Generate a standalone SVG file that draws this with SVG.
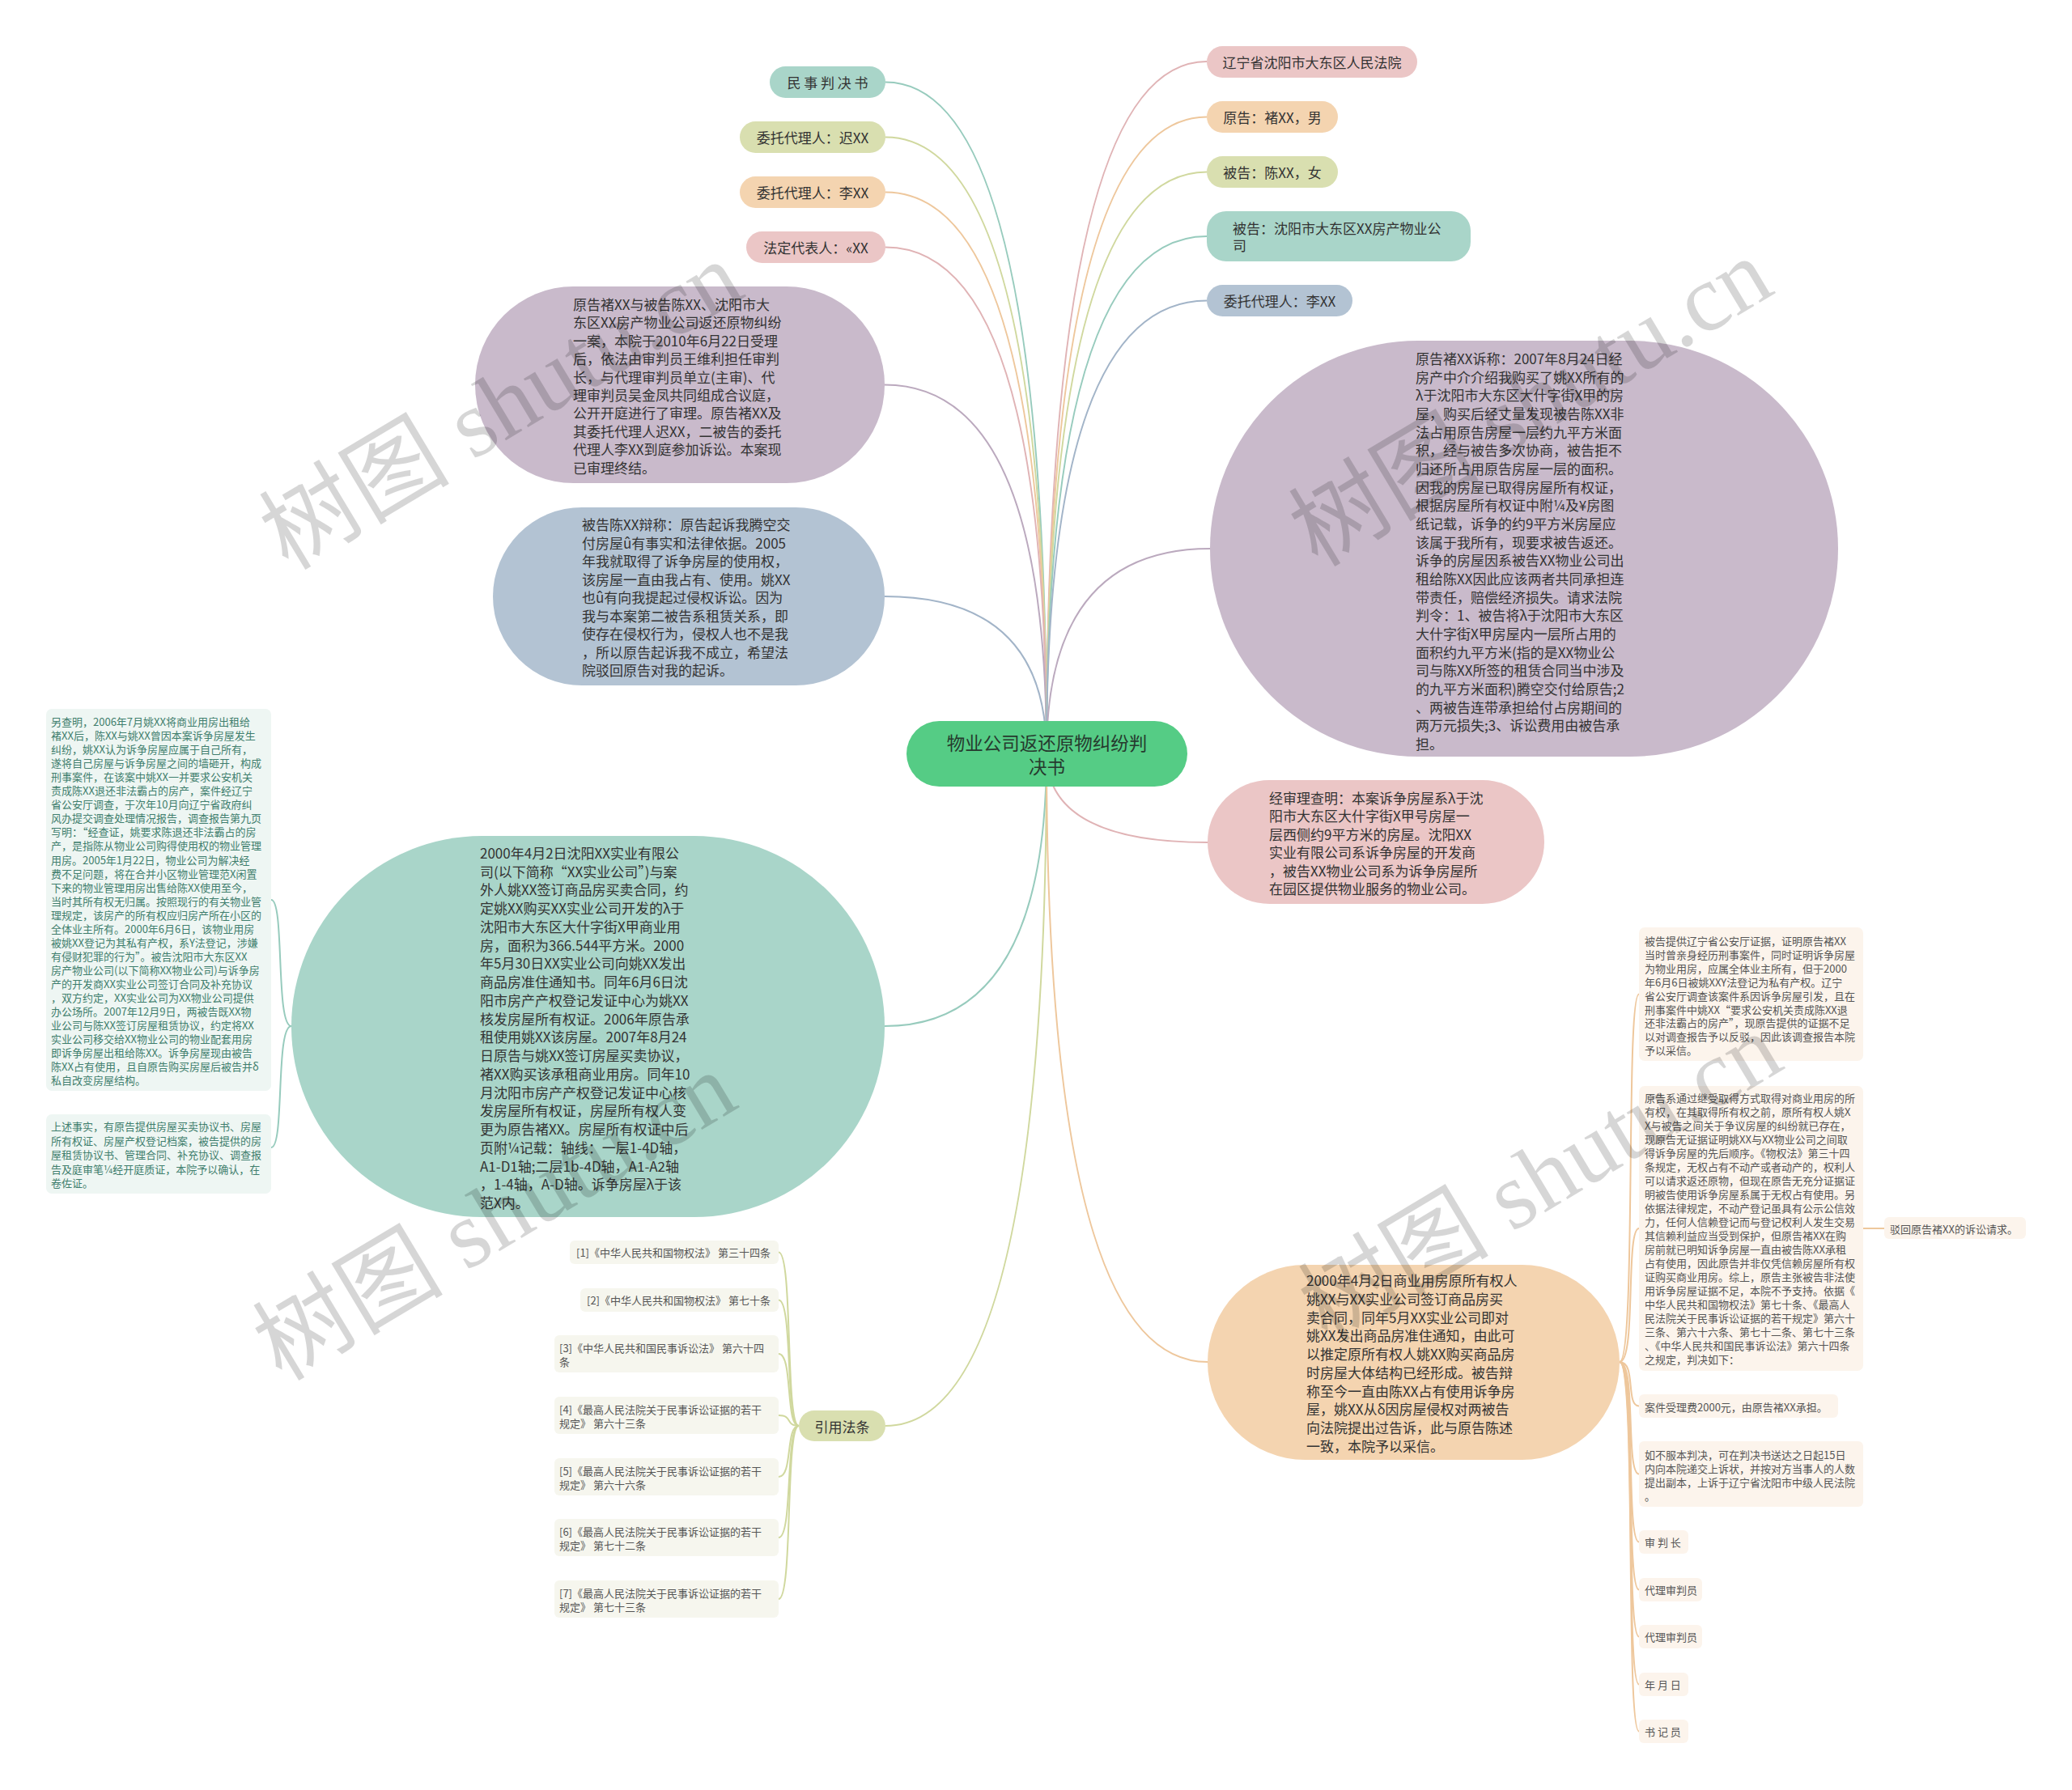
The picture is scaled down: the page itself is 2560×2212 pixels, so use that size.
<svg xmlns="http://www.w3.org/2000/svg" width="2560" height="2212" viewBox="0 0 2560 2212">
<style>
text{font-family:"Noto Sans CJK SC","Noto Sans",sans-serif;fill:#333;dominant-baseline:central}
.c{text-anchor:middle}
.f17{font-size:17px}
.f13{font-size:13px;fill:#555}
.f13g{font-size:13px;fill:#3f7e6d}
.f23{font-size:22.5px;fill:#263a2e}
.ln{fill:none;stroke-width:2}
.teal{fill:#a9d5c9}.olive{fill:#d9dfb0}.peach{fill:#f4d4b0}.pink{fill:#ebc6c6}.blue{fill:#b3c3d3}.purple{fill:#c9bacb}
.lteal{stroke:#97cbbd}.lolive{stroke:#d0d89e}.lpeach{stroke:#eec79c}.lpink{stroke:#e0b3b5}.lblue{stroke:#a2b4c8}.lpurple{stroke:#bba9be}
.boxg{fill:#eef6f3}.boxl{fill:#f6f6ee}.boxp{fill:#fcf4ec}
.wm{font-family:"Liberation Serif","Noto Sans CJK SC",serif;font-size:118px;fill:#000;fill-opacity:.16;dominant-baseline:alphabetic}
</style>
<rect width="2560" height="2212" fill="#fff"/>
<g id="connectors">
<path class="ln lteal" d="M1293 931 Q1293 101.5 1094 101.5"/>
<path class="ln lolive" d="M1293 931 Q1293 169.5 1094 169.5"/>
<path class="ln lpeach" d="M1293 931 Q1293 237.5 1094 237.5"/>
<path class="ln lpink" d="M1293 931 Q1293 305.5 1094 305.5"/>
<path class="ln lpurple" d="M1293 931 Q1293 475.5 1093 475.5"/>
<path class="ln lblue" d="M1293 931 Q1293 737 1093 737"/>
<path class="ln lteal" d="M1293 931 Q1293 1268 1093 1268"/>
<path class="ln lolive" d="M1293 931 Q1293 1762 1094 1762"/>
<path class="ln lpink" d="M1293 931 Q1293 76 1491 76"/>
<path class="ln lpeach" d="M1293 931 Q1293 144.5 1491 144.5"/>
<path class="ln lolive" d="M1293 931 Q1293 212.5 1491 212.5"/>
<path class="ln lteal" d="M1293 931 Q1293 292 1491 292"/>
<path class="ln lblue" d="M1293 931 Q1293 371.5 1491 371.5"/>
<path class="ln lpurple" d="M1293 931 Q1293 678 1495 678"/>
<path class="ln lpink" d="M1293 931 Q1293 1041 1492 1041"/>
<path class="ln lpeach" d="M1293 931 Q1293 1683 1492 1683"/>
<path class="ln lteal" d="M360 1268 C340 1268 352 1112 335 1112"/>
<path class="ln lteal" d="M360 1268 C340 1268 352 1418 335 1418"/>
<path class="ln lolive" d="M987 1762 C970 1762 980 1547.5 962 1547.5"/>
<path class="ln lolive" d="M987 1762 C970 1762 980 1606.5 962 1606.5"/>
<path class="ln lolive" d="M987 1762 C970 1762 980 1673 962 1673"/>
<path class="ln lolive" d="M987 1762 C970 1762 980 1749 962 1749"/>
<path class="ln lolive" d="M987 1762 C970 1762 980 1825 962 1825"/>
<path class="ln lolive" d="M987 1762 C970 1762 980 1900 962 1900"/>
<path class="ln lolive" d="M987 1762 C970 1762 980 1976 962 1976"/>
<path class="ln lpeach" d="M2001 1683 C2022 1683 2008 1228.5 2025 1228.5"/>
<path class="ln lpeach" d="M2001 1683 C2022 1683 2008 1518 2025 1518"/>
<path class="ln lpeach" d="M2001 1683 C2022 1683 2008 1737.5 2025 1737.5"/>
<path class="ln lpeach" d="M2001 1683 C2022 1683 2008 1821.5 2025 1821.5"/>
<path class="ln lpeach" d="M2001 1683 C2022 1683 2008 1905.5 2025 1905.5"/>
<path class="ln lpeach" d="M2001 1683 C2022 1683 2008 1964.5 2025 1964.5"/>
<path class="ln lpeach" d="M2001 1683 C2022 1683 2008 2022.5 2025 2022.5"/>
<path class="ln lpeach" d="M2001 1683 C2022 1683 2008 2081.5 2025 2081.5"/>
<path class="ln lpeach" d="M2001 1683 C2022 1683 2008 2139.5 2025 2139.5"/>
<path class="ln lpeach" d="M2302 1518 L2328 1518"/>
</g>
<g id="root">
<rect x="1120" y="891" width="347" height="81" rx="40.5" fill="#55cc85"/>
<text class="f23 c" x="1293.5" y="917">物业公司返还原物纠纷判</text>
<text class="f23 c" x="1293.5" y="946">决书</text>
</g>
<g id="n-mssjs"><rect class="teal" x="951" y="82" width="143" height="39" rx="19.5"/><text class="f17 c" x="1022.5" y="101.5">民 事 判 决 书</text></g>
<g id="n-wt-chi"><rect class="olive" x="914" y="150" width="180" height="39" rx="19.5"/><text class="f17 c" x="1004" y="169.5">委托代理人：迟XX</text></g>
<g id="n-wt-li-l"><rect class="peach" x="914" y="218" width="180" height="39" rx="19.5"/><text class="f17 c" x="1004" y="237.5">委托代理人：李XX</text></g>
<g id="n-fddb"><rect class="pink" x="922" y="286" width="172" height="39" rx="19.5"/><text class="f17 c" x="1008" y="305.5">法定代表人：«XX</text></g>
<g id="n-court"><rect class="pink" x="1491" y="57" width="260" height="39" rx="19.5"/><text class="f17 c" x="1621" y="76.5">辽宁省沈阳市大东区人民法院</text></g>
<g id="n-yuangao"><rect class="peach" x="1491" y="125" width="162" height="39" rx="19.5"/><text class="f17 c" x="1572" y="144.5">原告：褚XX，男</text></g>
<g id="n-beigao1"><rect class="olive" x="1491" y="193" width="162" height="39" rx="19.5"/><text class="f17 c" x="1572" y="212.5">被告：陈XX，女</text></g>
<g id="n-beigao2"><rect class="teal" x="1491" y="261" width="326" height="62" rx="24"/><text class="f17" x="1523" y="281.5">被告：沈阳市大东区XX房产物业公</text><text class="f17" x="1523" y="302.5">司</text></g>
<g id="n-wt-li-r"><rect class="blue" x="1491" y="352" width="180" height="39" rx="19.5"/><text class="f17 c" x="1581" y="371.5">委托代理人：李XX</text></g>
<g id="n-intro">
<rect class="purple" x="587" y="354" width="506" height="243" rx="121.5"/>
<text class="f17" x="708"><tspan x="708" y="375">原告褚XX与被告陈XX、沈阳市大</tspan><tspan x="708" y="397.4">东区XX房产物业公司返还原物纠纷</tspan><tspan x="708" y="419.8">一案，本院于2010年6月22日受理</tspan><tspan x="708" y="442.2">后，依法由审判员王维利担任审判</tspan><tspan x="708" y="464.6">长，与代理审判员单立(主审)、代</tspan><tspan x="708" y="487">理审判员吴金凤共同组成合议庭，</tspan><tspan x="708" y="509.4">公开开庭进行了审理。原告褚XX及</tspan><tspan x="708" y="531.8">其委托代理人迟XX，二被告的委托</tspan><tspan x="708" y="554.2">代理人李XX到庭参加诉讼。本案现</tspan><tspan x="708" y="576.6">已审理终结。</tspan></text>
</g>
<g id="n-defense">
<rect class="blue" x="609" y="627" width="484" height="220" rx="110"/>
<text class="f17" x="719"><tspan x="719" y="647">被告陈XX辩称：原告起诉我腾空交</tspan><tspan x="719" y="669.5">付房屋û有事实和法律依据。2005</tspan><tspan x="719" y="692">年我就取得了诉争房屋的使用权，</tspan><tspan x="719" y="714.5">该房屋一直由我占有、使用。姚XX</tspan><tspan x="719" y="737">也û有向我提起过侵权诉讼。因为</tspan><tspan x="719" y="759.5">我与本案第二被告系租赁关系，即</tspan><tspan x="719" y="782">使存在侵权行为，侵权人也不是我</tspan><tspan x="719" y="804.5">，所以原告起诉我不成立，希望法</tspan><tspan x="719" y="827">院驳回原告对我的起诉。</tspan></text>
</g>
<g id="n-claim">
<rect class="purple" x="1495" y="421" width="776" height="514" rx="257"/>
<text class="f17" x="1749"><tspan x="1749" y="442">原告褚XX诉称：2007年8月24日经</tspan><tspan x="1749" y="464.67">房产中介介绍我购买了姚XX所有的</tspan><tspan x="1749" y="487.33">λ于沈阳市大东区大什字街X甲的房</tspan><tspan x="1749" y="510">屋，购买后经丈量发现被告陈XX非</tspan><tspan x="1749" y="532.67">法占用原告房屋一层约九平方米面</tspan><tspan x="1749" y="555.33">积，经与被告多次协商，被告拒不</tspan><tspan x="1749" y="578">归还所占用原告房屋一层的面积。</tspan><tspan x="1749" y="600.67">因我的房屋已取得房屋所有权证，</tspan><tspan x="1749" y="623.33">根据房屋所有权证中附¼及¥房图</tspan><tspan x="1749" y="646">纸记载，诉争的约9平方米房屋应</tspan><tspan x="1749" y="668.67">该属于我所有，现要求被告返还。</tspan><tspan x="1749" y="691.33">诉争的房屋因系被告XX物业公司出</tspan><tspan x="1749" y="714">租给陈XX因此应该两者共同承担连</tspan><tspan x="1749" y="736.67">带责任，赔偿经济损失。请求法院</tspan><tspan x="1749" y="759.33">判令：1、被告将λ于沈阳市大东区</tspan><tspan x="1749" y="782">大什字街X甲房屋内一层所占用的</tspan><tspan x="1749" y="804.67">面积约九平方米(指的是XX物业公</tspan><tspan x="1749" y="827.33">司与陈XX所签的租赁合同当中涉及</tspan><tspan x="1749" y="850">的九平方米面积)腾空交付给原告;2</tspan><tspan x="1749" y="872.67">、两被告连带承担给付占房期间的</tspan><tspan x="1749" y="895.33">两万元损失;3、诉讼费用由被告承</tspan><tspan x="1749" y="918">担。</tspan></text>
</g>
<g id="n-found">
<rect class="pink" x="1492" y="964" width="416" height="153" rx="76.5"/>
<text class="f17" x="1568"><tspan x="1568" y="985">经审理查明：本案诉争房屋系λ于沈</tspan><tspan x="1568" y="1007.4">阳市大东区大什字街X甲号房屋一</tspan><tspan x="1568" y="1029.8">层西侧约9平方米的房屋。沈阳XX</tspan><tspan x="1568" y="1052.2">实业有限公司系诉争房屋的开发商</tspan><tspan x="1568" y="1074.6">，被告XX物业公司系为诉争房屋所</tspan><tspan x="1568" y="1097">在园区提供物业服务的物业公司。</tspan></text>
</g>
<g id="n-history">
<rect class="teal" x="360" y="1033" width="733" height="471" rx="235.5"/>
<text class="f17" x="593"><tspan x="593" y="1053">2000年4月2日沈阳XX实业有限公</tspan><tspan x="593" y="1075.74">司(以下简称“XX实业公司”)与案</tspan><tspan x="593" y="1098.47">外人姚XX签订商品房买卖合同，约</tspan><tspan x="593" y="1121.21">定姚XX购买XX实业公司开发的λ于</tspan><tspan x="593" y="1143.95">沈阳市大东区大什字街X甲商业用</tspan><tspan x="593" y="1166.68">房，面积为366.544平方米。2000</tspan><tspan x="593" y="1189.42">年5月30日XX实业公司向姚XX发出</tspan><tspan x="593" y="1212.16">商品房准住通知书。同年6月6日沈</tspan><tspan x="593" y="1234.89">阳市房产产权登记发证中心为姚XX</tspan><tspan x="593" y="1257.63">核发房屋所有权证。2006年原告承</tspan><tspan x="593" y="1280.37">租使用姚XX该房屋。2007年8月24</tspan><tspan x="593" y="1303.11">日原告与姚XX签订房屋买卖协议，</tspan><tspan x="593" y="1325.84">褚XX购买该承租商业用房。同年10</tspan><tspan x="593" y="1348.58">月沈阳市房产产权登记发证中心核</tspan><tspan x="593" y="1371.32">发房屋所有权证，房屋所有权人变</tspan><tspan x="593" y="1394.05">更为原告褚XX。房屋所有权证中后</tspan><tspan x="593" y="1416.79">页附¼记载：轴线：一层1-4D轴，</tspan><tspan x="593" y="1439.53">A1-D1轴;二层1b-4D轴，A1-A2轴</tspan><tspan x="593" y="1462.26">，1-4轴，A-D轴。诉争房屋λ于该</tspan><tspan x="593" y="1485">范X内。</tspan></text>
</g>
<g id="n-other">
<rect class="boxg" x="57" y="876" width="278" height="472" rx="7"/>
<text class="f13g" x="63"><tspan x="63" y="891">另查明，2006年7月姚XX将商业用房出租给</tspan><tspan x="63" y="908.05">褚XX后，陈XX与姚XX曾因本案诉争房屋发生</tspan><tspan x="63" y="925.1">纠纷，姚XX认为诉争房屋应属于自己所有，</tspan><tspan x="63" y="942.15">遂将自己房屋与诉争房屋之间的墙砸开，构成</tspan><tspan x="63" y="959.2">刑事案件，在该案中姚XX一并要求公安机关</tspan><tspan x="63" y="976.25">责成陈XX退还非法霸占的房产，案件经辽宁</tspan><tspan x="63" y="993.3">省公安厅调查，于次年10月向辽宁省政府纠</tspan><tspan x="63" y="1010.35">风办提交调查处理情况报告，调查报告第九页</tspan><tspan x="63" y="1027.4">写明：“经查证，姚要求陈退还非法霸占的房</tspan><tspan x="63" y="1044.45">产，是指陈从物业公司购得使用权的物业管理</tspan><tspan x="63" y="1061.5">用房。2005年1月22日，物业公司为解决经</tspan><tspan x="63" y="1078.55">费不足问题，将在合并小区物业管理范X闲置</tspan><tspan x="63" y="1095.6">下来的物业管理用房出售给陈XX使用至今，</tspan><tspan x="63" y="1112.65">当时其所有权无归属。按照现行的有关物业管</tspan><tspan x="63" y="1129.7">理规定，该房产的所有权应归房产所在小区的</tspan><tspan x="63" y="1146.75">全体业主所有。2000年6月6日，该物业用房</tspan><tspan x="63" y="1163.8">被姚XX登记为其私有产权，系Y法登记，涉嫌</tspan><tspan x="63" y="1180.85">有侵财犯罪的行为”。被告沈阳市大东区XX</tspan><tspan x="63" y="1197.9">房产物业公司(以下简称XX物业公司)与诉争房</tspan><tspan x="63" y="1214.95">产的开发商XX实业公司签订合同及补充协议</tspan><tspan x="63" y="1232">，双方约定，XX实业公司为XX物业公司提供</tspan><tspan x="63" y="1249.05">办公场所。2007年12月9日，两被告既XX物</tspan><tspan x="63" y="1266.1">业公司与陈XX签订房屋租赁协议，约定将XX</tspan><tspan x="63" y="1283.15">实业公司移交给XX物业公司的物业配套用房</tspan><tspan x="63" y="1300.2">即诉争房屋出租给陈XX。诉争房屋现由被告</tspan><tspan x="63" y="1317.25">陈XX占有使用，且自原告购买房屋后被告并δ</tspan><tspan x="63" y="1334.3">私自改变房屋结构。</tspan></text>
</g>
<g id="n-evidence">
<rect class="boxg" x="57" y="1377" width="278" height="98" rx="7"/>
<text class="f13g" x="63"><tspan x="63" y="1391">上述事实，有原告提供房屋买卖协议书、房屋</tspan><tspan x="63" y="1408.5">所有权证、房屋产权登记档案，被告提供的房</tspan><tspan x="63" y="1426">屋租赁协议书、管理合同、补充协议、调查报</tspan><tspan x="63" y="1443.5">告及庭审笔¼经开庭质证，本院予以确认，在</tspan><tspan x="63" y="1461">卷佐证。</tspan></text>
</g>
<g id="n-laws"><rect class="olive" x="987" y="1743" width="107" height="38" rx="19"/><text class="f17 c" x="1040.5" y="1762">引用法条</text></g>
<g id="law1"><rect class="boxl" x="704" y="1533" width="258" height="29" rx="6"/><text class="f13" x="712" y="1547.5">[1]《中华人民共和国物权法》 第三十四条</text></g>
<g id="law2"><rect class="boxl" x="717" y="1592" width="245" height="29" rx="6"/><text class="f13" x="725" y="1606.5">[2]《中华人民共和国物权法》 第七十条</text></g>
<g id="law3"><rect class="boxl" x="685" y="1650" width="277" height="46" rx="6"/><text class="f13" x="691"><tspan x="691" y="1665">[3]《中华人民共和国民事诉讼法》 第六十四</tspan><tspan x="691" y="1682">条</tspan></text></g>
<g id="law4"><rect class="boxl" x="685" y="1726" width="277" height="46" rx="6"/><text class="f13" x="691"><tspan x="691" y="1741">[4]《最高人民法院关于民事诉讼证据的若干</tspan><tspan x="691" y="1758">规定》 第六十三条</tspan></text></g>
<g id="law5"><rect class="boxl" x="685" y="1802" width="277" height="46" rx="6"/><text class="f13" x="691"><tspan x="691" y="1817">[5]《最高人民法院关于民事诉讼证据的若干</tspan><tspan x="691" y="1834">规定》 第六十六条</tspan></text></g>
<g id="law6"><rect class="boxl" x="685" y="1877" width="277" height="46" rx="6"/><text class="f13" x="691"><tspan x="691" y="1892">[6]《最高人民法院关于民事诉讼证据的若干</tspan><tspan x="691" y="1909">规定》 第七十二条</tspan></text></g>
<g id="law7"><rect class="boxl" x="685" y="1953" width="277" height="46" rx="6"/><text class="f13" x="691"><tspan x="691" y="1968">[7]《最高人民法院关于民事诉讼证据的若干</tspan><tspan x="691" y="1985">规定》 第七十三条</tspan></text></g>
<g id="n-reason">
<rect class="peach" x="1492" y="1563" width="509" height="241" rx="120.5"/>
<text class="f17" x="1614"><tspan x="1614" y="1581">2000年4月2日商业用房原所有权人</tspan><tspan x="1614" y="1603.8">姚XX与XX实业公司签订商品房买</tspan><tspan x="1614" y="1626.6">卖合同，同年5月XX实业公司即对</tspan><tspan x="1614" y="1649.3">姚XX发出商品房准住通知，由此可</tspan><tspan x="1614" y="1672.1">以推定原所有权人姚XX购买商品房</tspan><tspan x="1614" y="1694.9">时房屋大体结构已经形成。被告辩</tspan><tspan x="1614" y="1717.7">称至今一直由陈XX占有使用诉争房</tspan><tspan x="1614" y="1740.4">屋，姚XX从δ因房屋侵权对两被告</tspan><tspan x="1614" y="1763.2">向法院提出过告诉，此与原告陈述</tspan><tspan x="1614" y="1786">一致，本院予以采信。</tspan></text>
</g>
<g id="r1"><rect class="boxp" x="2025" y="1146" width="277" height="165" rx="7"/>
<text class="f13" x="2032"><tspan x="2032" y="1162">被告提供辽宁省公安厅证据，证明原告褚XX</tspan><tspan x="2032" y="1178.9">当时曾亲身经历刑事案件，同时证明诉争房屋</tspan><tspan x="2032" y="1195.8">为物业用房，应属全体业主所有，但于2000</tspan><tspan x="2032" y="1212.7">年6月6日被姚XXY法登记为私有产权。辽宁</tspan><tspan x="2032" y="1229.6">省公安厅调查该案件系因诉争房屋引发，且在</tspan><tspan x="2032" y="1246.5">刑事案件中姚XX“要求公安机关责成陈XX退</tspan><tspan x="2032" y="1263.4">还非法霸占的房产”，现原告提供的证据不足</tspan><tspan x="2032" y="1280.3">以对调查报告予以反驳，因此该调查报告本院</tspan><tspan x="2032" y="1297.2">予以采信。</tspan></text></g>
<g id="r2"><rect class="boxp" x="2025" y="1342" width="277" height="352" rx="7"/>
<text class="f13" x="2032"><tspan x="2032" y="1356">原告系通过继受取得方式取得对商业用房的所</tspan><tspan x="2032" y="1373">有权，在其取得所有权之前，原所有权人姚X</tspan><tspan x="2032" y="1390">X与被告之间关于争议房屋的纠纷就已存在，</tspan><tspan x="2032" y="1407">现原告无证据证明姚XX与XX物业公司之间取</tspan><tspan x="2032" y="1424">得诉争房屋的先后顺序。《物权法》第三十四</tspan><tspan x="2032" y="1441">条规定，无权占有不动产或者动产的，权利人</tspan><tspan x="2032" y="1458">可以请求返还原物，但现在原告无充分证据证</tspan><tspan x="2032" y="1475">明被告使用诉争房屋系属于无权占有使用。另</tspan><tspan x="2032" y="1492">依据法律规定，不动产登记虽具有公示公信效</tspan><tspan x="2032" y="1509">力，任何人信赖登记而与登记权利人发生交易</tspan><tspan x="2032" y="1526">其信赖利益应当受到保护，但原告褚XX在购</tspan><tspan x="2032" y="1543">房前就已明知诉争房屋一直由被告陈XX承租</tspan><tspan x="2032" y="1560">占有使用，因此原告并非仅凭信赖房屋所有权</tspan><tspan x="2032" y="1577">证购买商业用房。综上，原告主张被告非法使</tspan><tspan x="2032" y="1594">用诉争房屋证据不足，本院不予支持。依据《</tspan><tspan x="2032" y="1611">中华人民共和国物权法》第七十条、《最高人</tspan><tspan x="2032" y="1628">民法院关于民事诉讼证据的若干规定》第六十</tspan><tspan x="2032" y="1645">三条、第六十六条、第七十二条、第七十三条</tspan><tspan x="2032" y="1662">、《中华人民共和国民事诉讼法》第六十四条</tspan><tspan x="2032" y="1679">之规定，判决如下：</tspan></text></g>
<g id="r2a"><rect class="boxp" x="2328" y="1504" width="175" height="27" rx="6"/><text class="f13" x="2335" y="1518">驳回原告褚XX的诉讼请求。</text></g>
<g id="r3"><rect class="boxp" x="2025" y="1723" width="246" height="29" rx="6"/><text class="f13" x="2032" y="1738">案件受理费2000元，由原告褚XX承担。</text></g>
<g id="r4"><rect class="boxp" x="2025" y="1781" width="277" height="81" rx="6"/>
<text class="f13" x="2032"><tspan x="2032" y="1797">如不服本判决，可在判决书送达之日起15日</tspan><tspan x="2032" y="1814">内向本院递交上诉状，并按对方当事人的人数</tspan><tspan x="2032" y="1831">提出副本，上诉于辽宁省沈阳市中级人民法院</tspan><tspan x="2032" y="1848">。</tspan></text></g>
<g id="r5"><rect class="boxp" x="2025" y="1891" width="61" height="29" rx="6"/><text class="f13" x="2032" y="1905.5">审 判 长</text></g>
<g id="r6"><rect class="boxp" x="2025" y="1950" width="78" height="29" rx="6"/><text class="f13" x="2032" y="1964.5">代理审判员</text></g>
<g id="r7"><rect class="boxp" x="2025" y="2008" width="78" height="29" rx="6"/><text class="f13" x="2032" y="2022.5">代理审判员</text></g>
<g id="r8"><rect class="boxp" x="2025" y="2067" width="61" height="29" rx="6"/><text class="f13" x="2032" y="2081.5">年 月 日</text></g>
<g id="r9"><rect class="boxp" x="2025" y="2125" width="61" height="29" rx="6"/><text class="f13" x="2032" y="2139.5">书 记 员</text></g>
<g id="watermark">
<text class="wm" transform="translate(356 706) rotate(-31)">树图 shutu.cn</text>
<text class="wm" transform="translate(1628 702) rotate(-31)">树图 shutu.cn</text>
<text class="wm" transform="translate(348 1708) rotate(-31)">树图 shutu.cn</text>
<text class="wm" transform="translate(1640 1660) rotate(-31)">树图 shutu.cn</text>
</g>
</svg>
